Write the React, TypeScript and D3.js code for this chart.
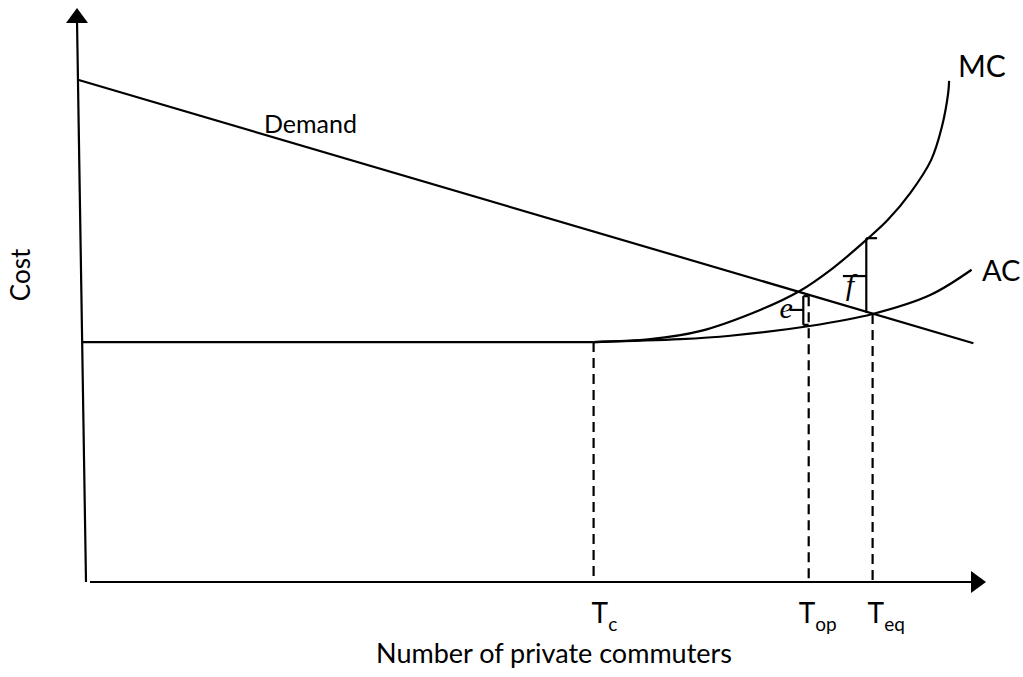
import React from "react";
import * as d3 from "d3";

const width = 1023;
const height = 677;

// cost (0-100) vs commuters (0-100)
const demand = [
  { x: -0.9, y: 87.5 },
  { x: 98.6, y: 41.6 },
];
const flatCost = [
  { x: -0.5, y: 41.8 },
  { x: 56.4, y: 41.8 },
];
const mc = [
  { x: 56.4, y: 41.8 },
  { x: 62.7, y: 42.3 },
  { x: 68.2, y: 43.7 },
  { x: 74.9, y: 47.4 },
  { x: 79.3, y: 50.7 },
  { x: 83.0, y: 54.7 },
  { x: 86.7, y: 59.6 },
  { x: 89.1, y: 63.1 },
  { x: 91.6, y: 67.8 },
  { x: 93.9, y: 73.5 },
  { x: 95.1, y: 79.3 },
  { x: 95.8, y: 85.2 },
  { x: 95.9, y: 87.3 },
];
const ac = [
  { x: 56.4, y: 41.8 },
  { x: 66.0, y: 42.3 },
  { x: 71.6, y: 42.9 },
  { x: 80.4, y: 44.6 },
  { x: 87.4, y: 46.7 },
  { x: 93.8, y: 50.0 },
  { x: 98.4, y: 54.4 },
];
// dashed drop lines: position and the cost where they start
const markers = [
  { name: "T", sub: "c", x: 56.4, top: 41.8 },
  { name: "T", sub: "op", x: 80.3, top: 49.8 },
  { name: "T", sub: "eq", x: 87.4, top: 46.7 },
];
// gap brackets: x, bottom, middle, top
const brackets = [
  { label: "e", x: 79.7, y0: 44.8, ym: 47.4, y1: 49.8, tickTop: 0.6, tickMid: -1.5, tickBot: 0.6 },
  { label: "f", x: 86.7, y0: 46.9, ym: 53.3, y1: 59.9, tickTop: 1.2, tickMid: -2.6, tickBot: 0 },
];

const xScale = d3.scaleLinear().domain([0, 100]).range([86, 986]);
const yScale = d3.scaleLinear().domain([0, 100]).range([582, 8]);

const straight = d3
  .line<{ x: number; y: number }>()
  .x((d) => xScale(d.x))
  .y((d) => yScale(d.y));
const smooth = straight.curve(d3.curveCatmullRom.alpha(0.5));

const labelDx = [-2, -10, -5];
const font = "Lato, 'Open Sans', sans-serif";

export default function App() {
  const ox = xScale(0);
  const oy = yScale(0);
  const xEnd = xScale(100);
  const yTop = yScale(100);
  const yAxisTopX = xScale(-1);
  const e = brackets[0];
  const f = brackets[1];
  return (
    <svg width={width} height={height} style={{ position: "absolute", left: 0, top: 0 }}>
      <rect width={width} height={height} fill="#fff" />
      <g stroke="#000" strokeWidth={2.2} fill="none">
        {/* axes */}
        <line x1={ox} y1={oy} x2={yAxisTopX} y2={yTop + 12} />
        <line x1={ox + 4} y1={oy} x2={xEnd - 12} y2={oy} />
        <path d={straight(demand) || ""} />
        <path d={straight(flatCost) || ""} />
        <path d={smooth(mc) || ""} />
        <path d={smooth(ac) || ""} />
        {markers.map((m, i) => (
          <line
            key={i}
            x1={xScale(m.x)}
            x2={xScale(m.x)}
            y1={yScale(m.top)}
            y2={oy}
            strokeDasharray="10 6"
          />
        ))}
        {brackets.map((b, i) => {
          const bx = xScale(b.x);
          return (
            <g key={i}>
              <line x1={bx} x2={bx} y1={yScale(b.y0)} y2={yScale(b.y1)} />
              <line x1={bx} x2={xScale(b.x + b.tickTop)} y1={yScale(b.y1)} y2={yScale(b.y1)} />
              <line x1={bx} x2={xScale(b.x + b.tickMid)} y1={yScale(b.ym)} y2={yScale(b.ym)} />
              {b.tickBot > 0 && (
                <line x1={bx} x2={xScale(b.x + b.tickBot)} y1={yScale(b.y0)} y2={yScale(b.y0)} />
              )}
            </g>
          );
        })}
      </g>
      {/* arrow heads */}
      <path
        d={`M${yAxisTopX},${yTop} L${yAxisTopX - 11},${yTop + 15} L${yAxisTopX + 11},${yTop + 15} Z`}
        fill="#000"
      />
      <path d={`M${xEnd},${oy} L${xEnd - 15},${oy - 11} L${xEnd - 15},${oy + 11} Z`} fill="#000" />

      <g fontFamily={font} fill="#000">
        <text x={958} y={77} fontSize={30}>MC</text>
        <text x={982} y={281} fontSize={29}>AC</text>
        <text x={264} y={133} fontSize={25}>Demand</text>
        <text x={554} y={663} fontSize={27} textAnchor="middle">
          Number of private commuters
        </text>
        <text transform="translate(30,275) rotate(-90)" fontSize={26} textAnchor="middle">
          Cost
        </text>
        {markers.map((m, i) => (
          <text key={i} x={xScale(m.x) + labelDx[i]} y={623} fontSize={28}>
            {m.name}
            <tspan fontSize={19} dy={8}>
              {m.sub}
            </tspan>
          </text>
        ))}
      </g>
      <g fontFamily="'Liberation Serif', 'DejaVu Serif', serif" fontStyle="italic" fill="#000">
        <text x={xScale(e.x + e.tickMid) + 3} y={yScale(e.ym) + 8} fontSize={30} textAnchor="end">
          {e.label}
        </text>
        <text x={xScale(f.x + f.tickMid) + 7} y={yScale(f.ym) + 19} fontSize={30} textAnchor="middle">
          {f.label}
        </text>
      </g>
    </svg>
  );
}
